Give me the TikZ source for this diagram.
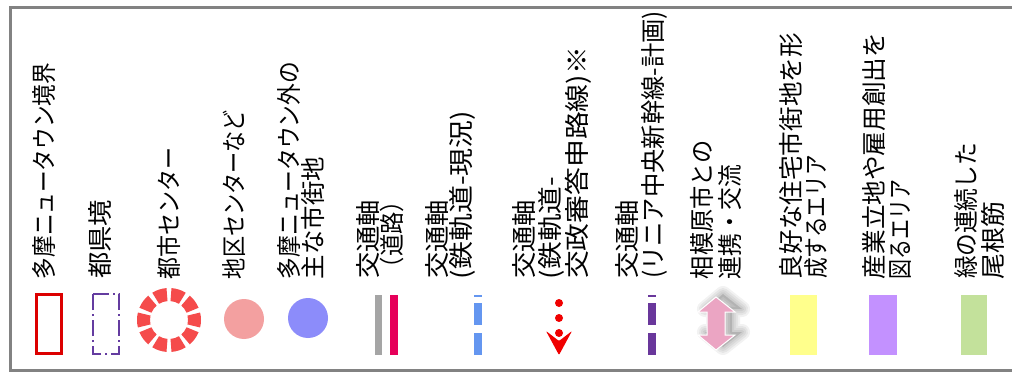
\documentclass[tikz,border=0pt]{standalone}
\usepackage{graphicx}
\usepackage{fontspec}
\newfontfamily\jp{Noto Sans CJK JP}
\definecolor{framegray}{RGB}{130,130,130}
\definecolor{tamared}{RGB}{220,0,0}
\definecolor{prefpurple}{RGB}{100,60,160}
\definecolor{ringred}{RGB}{245,75,75}
\definecolor{pinkc}{RGB}{243,160,160}
\definecolor{bluec}{RGB}{140,140,250}
\definecolor{roadgray}{RGB}{165,165,165}
\definecolor{roadred}{RGB}{230,0,90}
\definecolor{railblue}{RGB}{100,150,240}
\definecolor{arrowred}{RGB}{240,0,0}
\definecolor{liniapurple}{RGB}{105,55,155}
\definecolor{arrowpink}{RGB}{235,165,195}
\definecolor{yellowc}{RGB}{255,255,140}
\definecolor{violetc}{RGB}{195,145,255}
\definecolor{greenc}{RGB}{195,225,155}
\tikzset{
  lbl/.style={rotate=90, anchor=base west, inner sep=0pt, outer sep=0pt,
    font=\jp\fontsize{25}{30}\selectfont},
}
\newcommand{\lline}[4]{\node[lbl] (#1) at (#2+9.5,-279) {\resizebox{#3pt}{\height}{#4}};}
\begin{document}
\begin{tikzpicture}[x=1pt,y=1pt]
\useasboundingbox (0,0) rectangle (1012,-374);
\fill[white] (0,0) rectangle (1012,-374);
% frame
\draw[framegray, line width=3pt] (1012,-7.5) -- (10.5,-7.5) -- (10.5,-370) -- (1012,-370);
% labels
\lline{t1}{44}{216}{多摩ニュータウン境界}
\lline{t2}{100}{79}{都県境}
\lline{t3}{169}{132}{都市センター}
\lline{t4}{234}{169}{地区センターなど}
\lline{t5a}{289}{217}{多摩ニュータウン外の}
\lline{t5b}{313}{122}{主な市街地}
\lline{t6a}{368}{79}{交通軸}
\lline{t6b}{392}{89}{（道路）}
\lline{t7a}{437}{79}{交通軸}
\lline{t7b}{461}{168}{(鉄軌道-現況)}
\lline{t8a}{524}{79}{交通軸}
\lline{t8b}{550}{102}{(鉄軌道-}
\lline{t8c}{577}{232}{交政審答申路線)※}
\lline{t9a}{627}{79}{交通軸}
\lline{t9b}{653}{268}{(リニア中央新幹線-計画)}
\lline{t10a}{702}{139}{相模原市との}
\lline{t10b}{730}{114}{連携・交流}
\lline{t11a}{791}{246}{良好な住宅市街地を形}
\lline{t11b}{816}{124}{成するエリア}
\lline{t12a}{874}{246}{産業立地や雇用創出を}
\lline{t12b}{900}{100}{図るエリア}
\lline{t13a}{966}{136}{緑の連続した}
\lline{t13b}{993}{78}{尾根筋}
% 1 tama boundary
\draw[tamared, line width=3pt] (36.5,-294.5) rectangle (61.5,-353.5);
% 2 prefecture border
\draw[prefpurple, line width=2pt, dash pattern=on 16pt off 4pt on 2pt off 4pt]
  (93,-294) -- (119,-294) -- (119,-354) -- (93,-354) -- cycle;
% 3 city center ring
\foreach \a in {0,36,...,324}{
  \fill[ringred, shift={(169,-320)}] (\a-13.5:32) arc[start angle=\a-13.5, end angle=\a+13.5, radius=32]
    -- (\a+13.5:19) arc[start angle=\a+13.5, end angle=\a-13.5, radius=19] -- cycle;
}
% 4 district center
\fill[pinkc] (244,-319) circle[radius=20];
% 5 outside urban area
\fill[bluec] (308,-318) circle[radius=20];
% 6 road
\fill[roadgray] (375,-295) rectangle (382,-355);
\fill[roadred] (390,-295) rectangle (398,-355);
% 7 rail existing
\fill[railblue] (474,-295) rectangle (482,-296.5);
\fill[railblue] (474,-303) rectangle (482,-325);
\fill[railblue] (474,-333) rectangle (482,-355);
% 8 rail planned
\fill[arrowred] (559,-303) circle[radius=4];
\fill[arrowred] (559,-318) circle[radius=4];
\fill[arrowred] (559,-333) circle[radius=4];
\fill[arrowred, rounded corners=1pt] (546,-331) -- (559,-341) -- (572,-331) -- (559,-355) -- cycle;
% 9 linear
\fill[liniapurple] (648,-295) rectangle (656,-296.5);
\fill[liniapurple] (648,-303) rectangle (656,-325);
\fill[liniapurple] (648,-333) rectangle (656,-355);
% 10 sagamihara arrow
\foreach \w in {16,12,8,4}{
  \draw[black, opacity=0.05, line width=\w pt, line join=round, fill=black, fill opacity=0.03, shift={(7,3)}]
    (716,-297) -- (735,-312) -- (725,-312) -- (725,-335) -- (735,-335) -- (716,-350)
    -- (698,-335) -- (707,-335) -- (707,-312) -- (698,-312) -- cycle;
}
\fill[arrowpink, draw=white, line width=1pt]
  (716,-297) -- (735,-312) -- (725,-312) -- (725,-335) -- (735,-335) -- (716,-350)
  -- (698,-335) -- (707,-335) -- (707,-312) -- (698,-312) -- cycle;
% 11-13 areas
\fill[yellowc] (790,-295) rectangle (817,-355);
\fill[violetc] (869,-295) rectangle (897,-355);
\fill[greenc] (961,-295) rectangle (987,-355);
\end{tikzpicture}
\end{document}
